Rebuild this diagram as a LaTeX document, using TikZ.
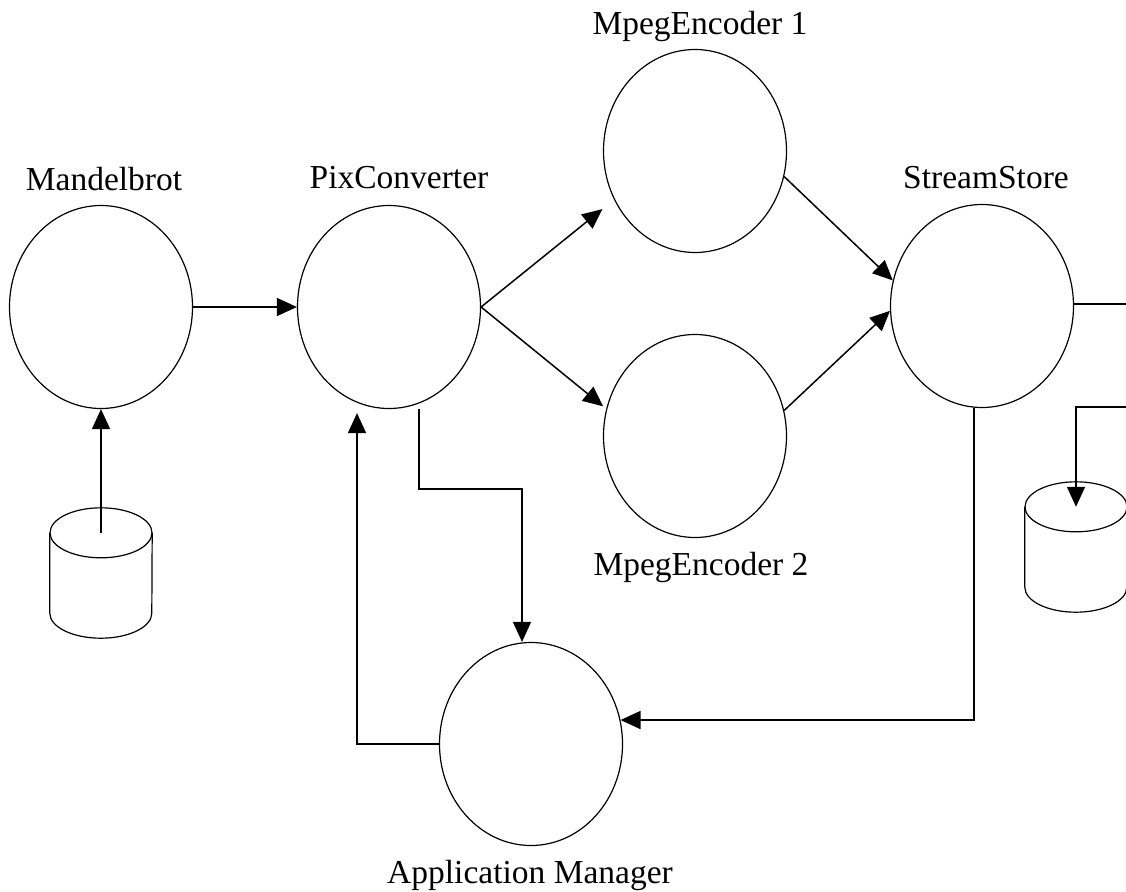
\documentclass[tikz,border=0pt]{standalone}
\usepackage{fontspec}
\setmainfont{Liberation Serif}
\usetikzlibrary{arrows.meta,shapes.geometric,calc}

\begin{document}
\begin{tikzpicture}[x=1pt,y=1pt,
  proc/.style={draw, ellipse, line width=1.2pt, inner sep=0pt,
               minimum width=183pt, minimum height=203pt},
  lbl/.style={anchor=base, font=\fontsize{33.5}{40}\selectfont, inner sep=0pt},
  conn/.style={line width=1.5pt},
  arr/.style={conn, -{Triangle[length=20pt,width=18pt]}},
  dbbox/.style={minimum width=102pt, minimum height=130pt, inner sep=0pt}
]
\useasboundingbox (0,0) rectangle (1126,-891);
\clip (0,0) rectangle (1126,-891);

% processes
\node[proc] (mandel) at (101,-307) {};
\node[proc] (pix)    at (389,-307) {};
\node[proc] (enc1)   at (695,-151) {};
\node[proc] (enc2)   at (695,-436) {};
\node[proc] (store)  at (982,-306) {};
\node[proc] (app)    at (531,-744) {};

% captions
\node[lbl] (tMandel) at (104,-190) {Mandelbrot};
\node[lbl] (tPix)    at (399,-188) {PixConverter};
\node[lbl] (tEnc1)   at (700,-35)  {MpegEncoder 1};
\node[lbl] (tEnc2)   at (701,-575) {MpegEncoder 2};
\node[lbl] (tStore)  at (986,-188) {StreamStore};
\node[lbl] (tApp)    at (530,-883) {Application Manager};

% data stores (cylinders)
\node[dbbox] (db1) at (101,-573) {};
\node[dbbox] (db2) at (1076,-547) {};
\foreach \d in {db1,db2}{
  \coordinate (\d top) at ($(\d.north)+(0,-25)$);
  \coordinate (\d bot) at ($(\d.south)+(0,25)$);
  \draw[line width=1.2pt] (\d top) ellipse [x radius=51pt, y radius=25pt];
  \draw[line width=1.2pt] (\d top -| \d.west) -- (\d bot -| \d.west)
     arc[start angle=180, end angle=360, x radius=51pt, y radius=25pt]
     -- (\d top -| \d.east);
}

% open ends at the right border
\coordinate (outA) at (1126,-304);
\coordinate (outB) at (1126,-407);

% connectors
\draw[arr] (db1top) -- (mandel.south);
\draw[arr] (mandel.east) -- (pix.west);
\draw[arr, shorten >=15pt] (pix.east) -- (enc1.211);
\draw[arr, shorten >=4pt]  (pix.east) -- (enc2.163);
\draw[arr] (enc1.344) -- (store.164);
\draw[arr] (enc2.16) -- (store.183);
\draw[conn] (store.east |- outA) -- (outA);
\draw[arr] (outB) -| (db2top);
\draw[arr] ([xshift=-8pt]store.south) |- (app.15);
\draw[arr] ([xshift=30pt]pix.south) -- ++(0,-80) -| ([xshift=-9pt]app.north);
\draw[arr, shorten >=4pt] (app.west) -| ([xshift=-32pt]pix.south);
\end{tikzpicture}
\end{document}
